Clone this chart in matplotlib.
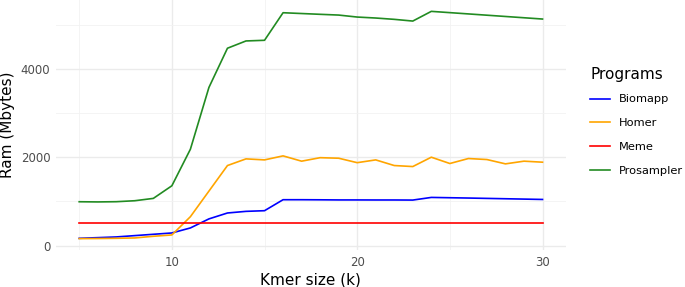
import matplotlib.pyplot as plt
import numpy as np

# kmer sizes on the x axis
kmer = list(range(5, 31))

# RAM usage (Mbytes) per program
biomapp = [165, 180, 196, 226, 256, 286, 400, 605, 739, 776, 791, 1040,
           1040, 1038, 1035, 1035, 1034, 1034, 1032, 1092, 1085, 1078, 1070,
           1062, 1054, 1046]
homer = [158, 160, 165, 173, 211, 241, 655, 1235, 1815, 1966, 1943, 2034,
         1914, 1993, 1981, 1880, 1943, 1815, 1792, 2004, 1861, 1974, 1951,
         1853, 1914, 1891]
meme = [504] * len(kmer)
prosampler = [994, 990, 995, 1017, 1070, 1356, 2185, 3586, 4475, 4640, 4655,
              5280, 5262, 5244, 5227, 5182, 5160, 5130, 5091, 5311, 5282,
              5253, 5224, 5195, 5166, 5137]

programs = ['Biomapp', 'Homer', 'Meme', 'Prosampler']
colors = ['blue', 'orange', 'red', 'forestgreen']
series = [biomapp, homer, meme, prosampler]

fig = plt.figure(figsize=(6.85, 2.87), dpi=100)
ax = fig.add_axes([0.0818, 0.129, 0.744, 0.871])

for name, col, vals in zip(programs, colors, series):
    ax.plot(kmer, vals, color=col, linewidth=1.2, label=name)

# ggplot style 5% expansion
allv = np.concatenate([np.array(s) for s in series])
ylo, yhi = allv.min(), allv.max()
pad = 0.05 * (yhi - ylo)
ax.set_ylim(ylo - pad, yhi + pad)
xpad = 0.05 * (max(kmer) - min(kmer))
ax.set_xlim(min(kmer) - xpad, max(kmer) + xpad)

ax.set_xticks([10, 20, 30])
ax.set_xticks([5, 15, 25], minor=True)
ax.set_yticks([0, 2000, 4000])
ax.set_yticks([1000, 3000, 5000], minor=True)
ax.grid(True, which='major', color='#EBEBEB', linewidth=1.0)
ax.grid(True, which='minor', color='#F2F2F2', linewidth=0.6)
ax.set_axisbelow(True)
for s in ax.spines.values():
    s.set_visible(False)
ax.tick_params(which='both', length=0, labelsize=8.5, labelcolor='#4D4D4D', pad=4)

ax.set_xlabel('Kmer size (k)', fontsize=11, labelpad=3)
ax.set_ylabel('Ram (Mbytes)', fontsize=11, labelpad=4)

leg = ax.legend(title='Programs', loc='upper left', bbox_to_anchor=(590 / 685, 1 - 67 / 287),
                bbox_transform=fig.transFigure, frameon=False, fontsize=8.2,
                title_fontsize=11, handlelength=1.75, labelspacing=1.2,
                handletextpad=0.75, borderpad=0, borderaxespad=0)
leg._legend_box.align = 'left'
leg._legend_box.sep = 9

fig.savefig('out.png', dpi=100)
